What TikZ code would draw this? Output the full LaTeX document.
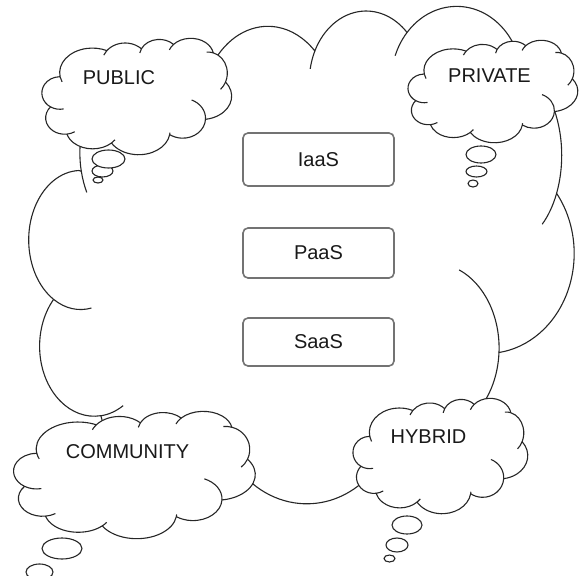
\documentclass[tikz,border=0pt]{standalone}
\usepackage{fontspec}
\setmainfont{Liberation Sans}
\tikzset{
  cloudline/.style={draw=black!85, line width=1.1pt, fill=white, line join=round},
  hookline/.style={draw=black!85, line width=1.1pt},
  bubble/.style={draw=black!85, line width=1.1pt, fill=white},
  svcbox/.style={draw=black!55, line width=1.6pt, rounded corners=5pt, minimum width=151pt, minimum height=51pt, inner sep=0pt, font=\fontsize{20}{24}\selectfont, text=black!90},
  lbl/.style={font=\fontsize{20}{24}\selectfont, text=black!90, inner sep=0pt},
}
\newcommand\cloudhook[6]{\draw[hookline] (#1,#2) ++(#5:#3 and #4) arc[start angle=#5,end angle=#6,x radius=#3,y radius=#4];}
\newcommand\officecloud[4]{%
\begin{scope}[shift={(#1,#2)}, xscale=#3, yscale=#4]
\draw[cloudline] (0.0903,0.3326)
 arc[start angle=170,end angle=296.2,x radius=0.1723,y radius=0.21]
 arc[start angle=218.1,end angle=314.8,x radius=0.122,y radius=0.17]
 arc[start angle=205.4,end angle=316.1,x radius=0.104,y radius=0.14]
 arc[start angle=220.7,end angle=350,x radius=0.12,y radius=0.15]
 arc[start angle=285,end angle=385,x radius=0.1,y radius=0.18]
 arc[start angle=323,end angle=442,x radius=0.16,y radius=0.2]
 arc[start angle=3,end angle=125,x radius=0.12,y radius=0.17]
 arc[start angle=8,end angle=150,x radius=0.165,y radius=0.2]
 arc[start angle=45,end angle=165,x radius=0.14,y radius=0.17]
 arc[start angle=83,end angle=222,x radius=0.1,y radius=0.14]
 arc[start angle=121.3,end angle=268,x radius=0.095,y radius=0.139]
 -- cycle;
\cloudhook{0.2600}{0.2961}{0.1723}{0.21}{158}{170}
\cloudhook{0.4321}{0.2126}{0.122}{0.17}{203}{218.1}
\cloudhook{0.6120}{0.1520}{0.104}{0.14}{190}{205.4}
\cloudhook{0.7779}{0.1527}{0.12}{0.15}{200}{220.7}
\cloudhook{0.8702}{0.3006}{0.1}{0.18}{265}{285}
\cloudhook{0.8702}{0.3006}{0.1}{0.18}{25}{50}
\cloudhook{0.7355}{0.6863}{0.12}{0.17}{-67}{3}
\cloudhook{0.5033}{0.7978}{0.165}{0.2}{3}{8}
\cloudhook{0.2614}{0.7776}{0.14}{0.17}{33}{45}
\cloudhook{0.1140}{0.6826}{0.1}{0.14}{58}{83}
\cloudhook{0.0891}{0.4701}{0.095}{0.139}{78}{121.3}
\end{scope}}
\begin{document}
\begin{tikzpicture}[x=1pt,y=-1pt]
\useasboundingbox (0,0) rectangle (582,576);
% main cloud
\officecloud{32}{5}{546}{500}
% PUBLIC
\officecloud{43}{38}{190}{117}
\draw[bubble] (98,180) ellipse [x radius=5, y radius=3];
\draw[bubble] (102.5,171) ellipse [x radius=10.5, y radius=6];
\draw[bubble] (108.5,159) ellipse [x radius=16.5, y radius=9];
% PRIVATE
\officecloud{409}{40}{170}{103}
\draw[bubble] (473,183.5) ellipse [x radius=5, y radius=3.5];
\draw[bubble] (476.5,171.5) ellipse [x radius=10.5, y radius=5.5];
\draw[bubble] (481,154.5) ellipse [x radius=15, y radius=8.5];
% COMMUNITY
\officecloud{15}{411}{242}{128}
\draw[bubble] (39.5,572) ellipse [x radius=13.5, y radius=8];
\draw[bubble] (62,548.5) ellipse [x radius=20, y radius=10.5];
% HYBRID
\officecloud{354}{398}{175}{116}
\draw[bubble] (389.5,558.5) ellipse [x radius=5.5, y radius=3.5];
\draw[bubble] (397,545) ellipse [x radius=11, y radius=7];
\draw[bubble] (407,525) ellipse [x radius=15, y radius=9];
% labels
\node[lbl] (public) at (119,77.5) {PUBLIC};
\node[lbl] (private) at (489.5,75.5) {PRIVATE};
\node[lbl] (community) at (127.5,451.5) {COMMUNITY};
\node[lbl] (hybrid) at (428.5,436.5) {HYBRID};
% service boxes
\node[svcbox, minimum height=53pt] (iaas) at (318.5,159.5) {IaaS};
\node[svcbox, minimum height=50pt] (paas) at (318.5,253) {PaaS};
\node[svcbox, minimum height=48pt] (saas) at (318.5,342) {SaaS};
\end{tikzpicture}
\end{document}
